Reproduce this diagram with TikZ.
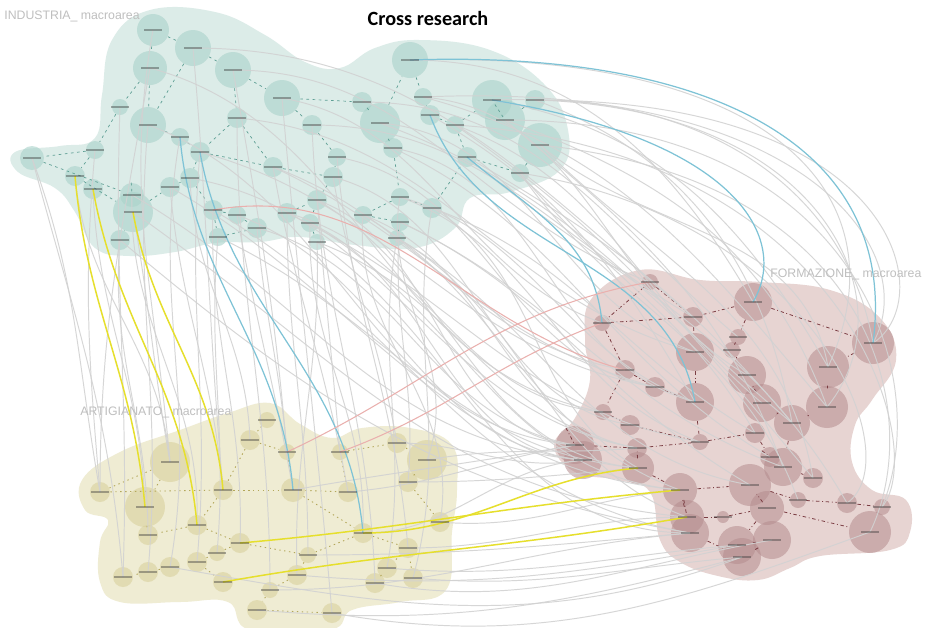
\documentclass[tikz,border=0pt]{standalone}
\usepackage{fontspec}
\setmainfont{Liberation Sans}
\newfontfamily\titlefont{Carlito}
\usetikzlibrary{positioning}
\definecolor{indfill}{HTML}{DCECE8}
\definecolor{indcirc}{HTML}{A9D2CA}
\definecolor{indline}{HTML}{5E9F94}
\definecolor{forfill}{HTML}{E7D4D2}
\definecolor{forcirc}{HTML}{B48C8E}
\definecolor{forline}{HTML}{7A3C42}
\definecolor{artfill}{HTML}{EFECD3}
\definecolor{artcirc}{HTML}{D9D19C}
\definecolor{artline}{HTML}{B3A75A}
\definecolor{linkgray}{HTML}{D2D2D2}
\definecolor{linkblue}{HTML}{7EC3D6}
\definecolor{linkyellow}{HTML}{E6DF2C}
\definecolor{linkred}{HTML}{EAB0AE}
\begin{document}
\begin{tikzpicture}[x=0.02cm, y=-0.02cm,
		indnode/.style={circle, inner sep=0pt, fill=indcirc, fill opacity=0.6},
		fornode/.style={circle, inner sep=0pt, fill=forcirc, fill opacity=0.55},
		artnode/.style={circle, inner sep=0pt, fill=artcirc, fill opacity=0.6},
		indedge/.style={draw=indline, line width=0.4pt, dash pattern=on 1.5pt off 2pt},
		foredge/.style={draw=forline, line width=0.45pt, dash pattern=on 2pt off 1.5pt on 0.5pt off 1.5pt},
		artedge/.style={draw=artline, line width=0.5pt, dash pattern=on 0.8pt off 2pt},
		xlink/.style={draw=linkgray, line width=0.55pt, opacity=0.9},
		bluelink/.style={draw=linkblue, line width=0.7pt},
		yellowlink/.style={draw=linkyellow, line width=0.85pt},
		redlink/.style={draw=linkred, line width=0.6pt},
		txtmark/.style={draw=black!80, line width=0.7pt, opacity=0.4},
		arealabel/.style={anchor=west, inner sep=0pt, text=gray!50, font=\fontsize{7}{8}\selectfont}]
		\useasboundingbox (0,0) rectangle (930,627);
		\fill[white] (0,0) rectangle (930,627);

		\fill[indfill] plot[smooth cycle, tension=0.7] coordinates {(15,152) (60,146) (95,138) (102,95) (112,40) (150,10) (215,12) (265,35) (305,62) (340,68) (375,48) (420,40) (490,50) (545,85) (568,130) (560,170) (510,192) (470,198) (455,228) (415,248) (355,245) (300,237) (260,242) (215,243) (175,252) (130,256) (95,248) (75,212) (55,188) (18,172)};
		\fill[forfill] plot[smooth cycle, tension=0.7] coordinates {(592,298) (640,270) (700,280) (760,282) (830,290) (880,318) (896,360) (872,400) (855,425) (852,462) (872,490) (906,500) (910,532) (890,550) (820,556) (790,568) (758,580) (718,576) (680,562) (660,540) (650,492) (618,480) (575,472) (554,445) (575,418) (590,380) (585,340)};
		\fill[artfill] plot[smooth cycle, tension=0.7] coordinates {(82,480) (120,452) (180,430) (228,413) (270,403) (300,424) (332,438) (362,428) (410,428) (452,445) (457,490) (452,532) (446,590) (400,602) (352,610) (330,630) (250,630) (228,602) (180,602) (120,602) (100,582) (100,542) (108,520) (85,510)};

		\foreach \n/\x/\y/\r in {i1/153/30/16, i2/193/48/18, i3/150/68/17, i4/233/70/18, i5/282/98/18, i6/120/107/8, i7/148/125/18, i8/180/137/9, i9/200/152/10, i10/237/118/10, i11/95/150/9, i12/32/158/12, i13/75/176/10, i14/93/189/10, i15/132/195/12, i16/133/212/20, i17/120/240/10, i18/170/187/10, i19/190/178/10, i20/213/210/10, i21/237/215/9, i22/257/228/10, i23/218/237/9, i24/273/167/10, i25/287/213/10, i26/312/125/10, i27/337/157/9, i28/333/177/10, i29/317/200/10, i30/310/223/9, i31/317/242/8, i32/362/102/10, i33/380/123/20, i34/393/148/10, i35/410/60/18, i36/423/97/9, i37/430/115/10, i38/455/125/9, i39/467/157/10, i40/492/100/20, i41/505/120/20, i42/535/100/10, i43/540/145/22, i44/520/173/9, i45/400/197/9, i46/432/208/10, i47/363/215/9, i48/400/222/9, i49/397/238/8}
			\node[indnode, minimum size=\r*0.4mm] (\n) at (\x,\y) {};
		\foreach \n/\x/\y/\r in {f1/650/282/8, f2/602/323/8, f3/693/317/10, f4/753/302/19, f5/873/343/21, f6/695/352/19, f7/738/337/8, f8/732/350/8, f9/747/375/19, f10/828/367/21, f11/625/370/10, f12/655/387/10, f13/695/402/19, f14/762/403/19, f15/827/407/21, f16/792/423/18, f17/603/412/8, f18/630/425/10, f19/755/433/10, f20/700/442/8, f21/575/445/19, f22/637/448/10, f23/583/460/19, f24/638/468/16, f25/770/457/10, f26/783/467/19, f27/813/478/10, f28/680/490/17, f29/750/485/21, f30/798/500/8, f31/847/503/10, f32/882/507/8, f33/687/517/17, f34/767/508/17, f35/723/517/6, f36/690/533/19, f37/737/545/19, f38/772/540/19, f39/742/557/19, f40/870/532/21}
			\node[fornode, minimum size=\r*0.4mm] (\n) at (\x,\y) {};
		\foreach \n/\x/\y/\r in {a1/267/420/8, a2/250/440/10, a3/287/452/8, a4/170/462/20, a5/340/452/8, a6/397/443/10, a7/427/460/20, a8/408/482/10, a9/100/492/10, a10/145/507/20, a11/223/490/10, a12/293/490/12, a13/348/492/10, a14/197/525/10, a15/148/535/10, a16/440/522/10, a17/363/533/10, a18/240/543/10, a19/217/553/8, a20/408/548/10, a21/170/567/10, a22/197/562/10, a23/148/572/10, a24/123/577/10, a25/308/555/8, a26/297/575/10, a27/223/582/10, a28/387/568/10, a29/413/578/10, a30/375/583/10, a31/270/590/8, a32/257/610/10, a33/332/613/10}
			\node[artnode, minimum size=\r*0.4mm] (\n) at (\x,\y) {};

		\foreach \s/\t in {i1/i2, i1/i3, i2/i4, i3/i7, i2/i7, i4/i5, i4/i10, i3/i6, i6/i11, i7/i8, i8/i9, i10/i9, i9/i19, i11/i12, i11/i13, i13/i16, i12/i15, i15/i16, i16/i17, i16/i18, i18/i19, i19/i20, i20/i21, i21/i22, i22/i23, i20/i23, i9/i24, i24/i28, i5/i26, i26/i27, i27/i28, i28/i29, i29/i30, i30/i31, i25/i29, i5/i32, i32/i33, i33/i34, i33/i35, i35/i36, i36/i37, i37/i38, i38/i39, i39/i44, i40/i41, i41/i42, i41/i43, i43/i44, i38/i40, i34/i45, i45/i46, i45/i47, i47/i48, i48/i49, i46/i39, i10/i24}
			\draw[indedge] (\s) -- (\t);
		\foreach \s/\t in {f1/f3, f1/f2, f2/f3, f3/f6, f4/f7, f4/f5, f7/f8, f8/f9, f5/f10, f3/f4, f2/f11, f11/f12, f12/f13, f6/f13, f9/f14, f10/f15, f14/f16, f15/f16, f11/f17, f17/f18, f13/f20, f18/f20, f20/f22, f22/f21, f21/f23, f22/f24, f20/f19, f19/f25, f25/f26, f26/f27, f24/f28, f28/f29, f29/f30, f30/f31, f31/f32, f28/f33, f33/f35, f35/f34, f34/f37, f33/f36, f36/f39, f37/f38, f38/f39, f34/f40, f29/f34, f16/f26}
			\draw[foredge] (\s) -- (\t);
		\foreach \s/\t in {a1/a2, a2/a3, a3/a12, a2/a11, a4/a9, a4/a10, a9/a11, a11/a12, a12/a13, a13/a5, a5/a6, a6/a7, a7/a8, a8/a16, a12/a17, a11/a14, a14/a15, a10/a15, a14/a18, a18/a19, a18/a25, a25/a26, a26/a31, a31/a32, a32/a33, a17/a20, a20/a28, a28/a30, a29/a20, a22/a19, a21/a23, a23/a24, a22/a27, a17/a25}
			\draw[artedge] (\s) -- (\t);

		\foreach \s/\t/\o/\i in {i11/a9/-95/95, i12/a9/-70/100, i13/a4/-85/95, i14/a10/-88/92, i15/a14/-92/88, i16/a4/-80/100, i17/a15/-95/90, i18/a11/-85/95, i19/a2/-88/92, i20/a18/-92/88, i21/a12/-80/100, i22/a3/-85/95, i23/a19/-95/85, i24/a13/-80/100, i25/a25/-90/90, i29/a5/-85/95, i30/a17/-92/88, i31/a26/-88/92, i9/a22/-95/85, i8/a21/-100/80, i7/a23/-95/85, i6/a24/-92/88, i28/a6/-80/100, i27/a20/-85/95, i45/a7/-100/70, i47/a16/-95/80, i49/a28/-100/80, i48/a8/-95/85, i46/a29/-100/75, i10/a31/-90/90, i5/a33/-85/95, i26/a30/-88/92, i1/a4/-100/95, i3/a9/-100/90, i2/a11/-85/95, i4/a3/-80/95, i12/a24/-75/95}
			\draw[xlink] (\s.center) to[out=\o, in=\i] (\t.center);
		\foreach \s/\t/\o/\i in {i5/f2/-10/160, i24/f11/-20/170, i25/f17/-15/175, i26/f3/0/150, i27/f12/-10/170, i28/f18/-15/170, i29/f21/-20/175, i30/f23/-25/175, i31/f22/-20/170, i32/f7/0/140, i33/f6/-5/160, i34/f13/-10/165, i35/f4/0/120, i36/f9/-5/150, i37/f13/-30/120, i38/f14/-20/140, i39/f16/-30/130, i40/f10/-10/120, i41/f15/-20/110, i42/f5/0/100, i43/f10/-40/100, i44/f19/-50/120, i45/f20/-20/160, i46/f24/-30/150, i47/f28/-30/160, i48/f29/-25/150, i49/f33/-30/160, i22/f21/-15/170, i21/f23/-20/175, i20/f36/-30/170, i19/f22/-10/170, i4/f1/0/160, i2/f3/0/140, i10/f6/-5/165, i9/f12/-15/170, i23/f24/-25/175, i17/f36/-40/170, i16/f33/-35/175, i18/f28/-30/175, i15/f23/-30/175, i7/f21/-20/175, i3/f17/-15/170, i24/f12/-25/165, i25/f20/-25/170, i29/f24/-30/175, i30/f28/-30/175, i31/f36/-35/180, i45/f13/-15/160, i46/f19/-20/150, i47/f22/-20/170, i48/f26/-25/160, i49/f29/-30/170, i33/f16/-20/140, i34/f25/-25/150, i36/f15/-15/130, i38/f27/-35/130, i39/f31/-40/120, i41/f26/-40/110, i44/f30/-55/110, i43/f27/-45/100, i42/f16/-20/100}
			\draw[xlink] (\s.center) to[out=\o, in=\i] (\t.center);
		\foreach \s/\t/\o/\i in {a6/f23/0/190, a8/f24/0/185, a16/f28/-5/185, a20/f33/0/180, a28/f37/-5/185, a29/f39/-5/185, a30/f38/-10/190, a31/f36/0/185, a33/f40/-10/200, a13/f21/5/190, a7/f22/10/185, a32/f39/-5/195, a12/f21/10/190, a17/f23/0/185, a25/f36/0/185, a26/f37/-5/190, a21/f39/-10/200}
			\draw[xlink] (\s.center) to[out=\o, in=\i] (\t.center);
		\draw[xlink] (i42.center) .. controls (900,100) and (940,300) .. (f5.center);
		\draw[xlink] (i43.center) .. controls (880,180) and (925,420) .. (f40.center);
		\draw[xlink] (i41.center) .. controls (860,120) and (935,380) .. (f32.center);
		\draw[xlink] (i40.center) .. controls (820,90) and (915,300) .. (f15.center);
		\draw[xlink] (i35.center) .. controls (780,50) and (905,200) .. (f10.center);
		\draw[xlink] (i44.center) .. controls (820,220) and (910,460) .. (f31.center);
		\draw[xlink] (i38.center) .. controls (850,150) and (930,450) .. (f32.center);
		\draw[xlink] (i36.center) .. controls (800,80) and (925,250) .. (f5.center);

		\draw[bluelink] (i35.center) .. controls (700,50) and (900,140) .. (f5.center);
		\draw[bluelink] (i40.center) .. controls (740,140) and (790,240) .. (f4.center);
		\draw[bluelink] (i37.center) to[out=-70, in=100] (f13.center);
		\draw[bluelink] (i39.center) to[out=-40, in=95] (f2.center);
		\draw[bluelink] (i8.center) to[out=-85, in=95] (a12.center);
		\draw[bluelink] (i9.center) to[out=-80, in=95] (a17.center);
		\draw[yellowlink] (i13.center) to[out=-85, in=95] (a10.center);
		\draw[yellowlink] (i14.center) to[out=-80, in=95] (a14.center);
		\draw[yellowlink] (i16.center) to[out=-80, in=95] (a11.center);
		\draw[yellowlink] (a17.center) to[out=0, in=185] (f24.center);
		\draw[yellowlink] (a18.center) to[out=5, in=185] (f28.center);
		\draw[yellowlink] (a27.center) to[out=10, in=190] (f33.center);
		\draw[redlink] (i20.center) to[out=10, in=165] (f11.center);
		\draw[redlink] (a3.center) to[out=25, in=190] (f1.center);
		\draw[redlink] (a5.center) to[out=20, in=200] (f2.center);

		\foreach \k in {1,...,49}
			\draw[txtmark] ([xshift=-5pt]i\k.center) -- ([xshift=5pt]i\k.center);
		\foreach \k in {1,...,40}
			\draw[txtmark] ([xshift=-5pt]f\k.center) -- ([xshift=5pt]f\k.center);
		\foreach \k in {1,...,33}
			\draw[txtmark] ([xshift=-5pt]a\k.center) -- ([xshift=5pt]a\k.center);

		\node[font=\titlefont\bfseries\fontsize{11.5}{13}\selectfont] (title) at (428,18) {Cross research};
		\node[arealabel] (indlabel) at (4,16) {INDUSTRIA\_ macroarea};
		\node[arealabel] (forlabel) at (770,274) {FORMAZIONE\_ macroarea};
		\node[arealabel] (artlabel) at (80,412) {ARTIGIANATO\_ macroarea};
\end{tikzpicture}
\end{document}
